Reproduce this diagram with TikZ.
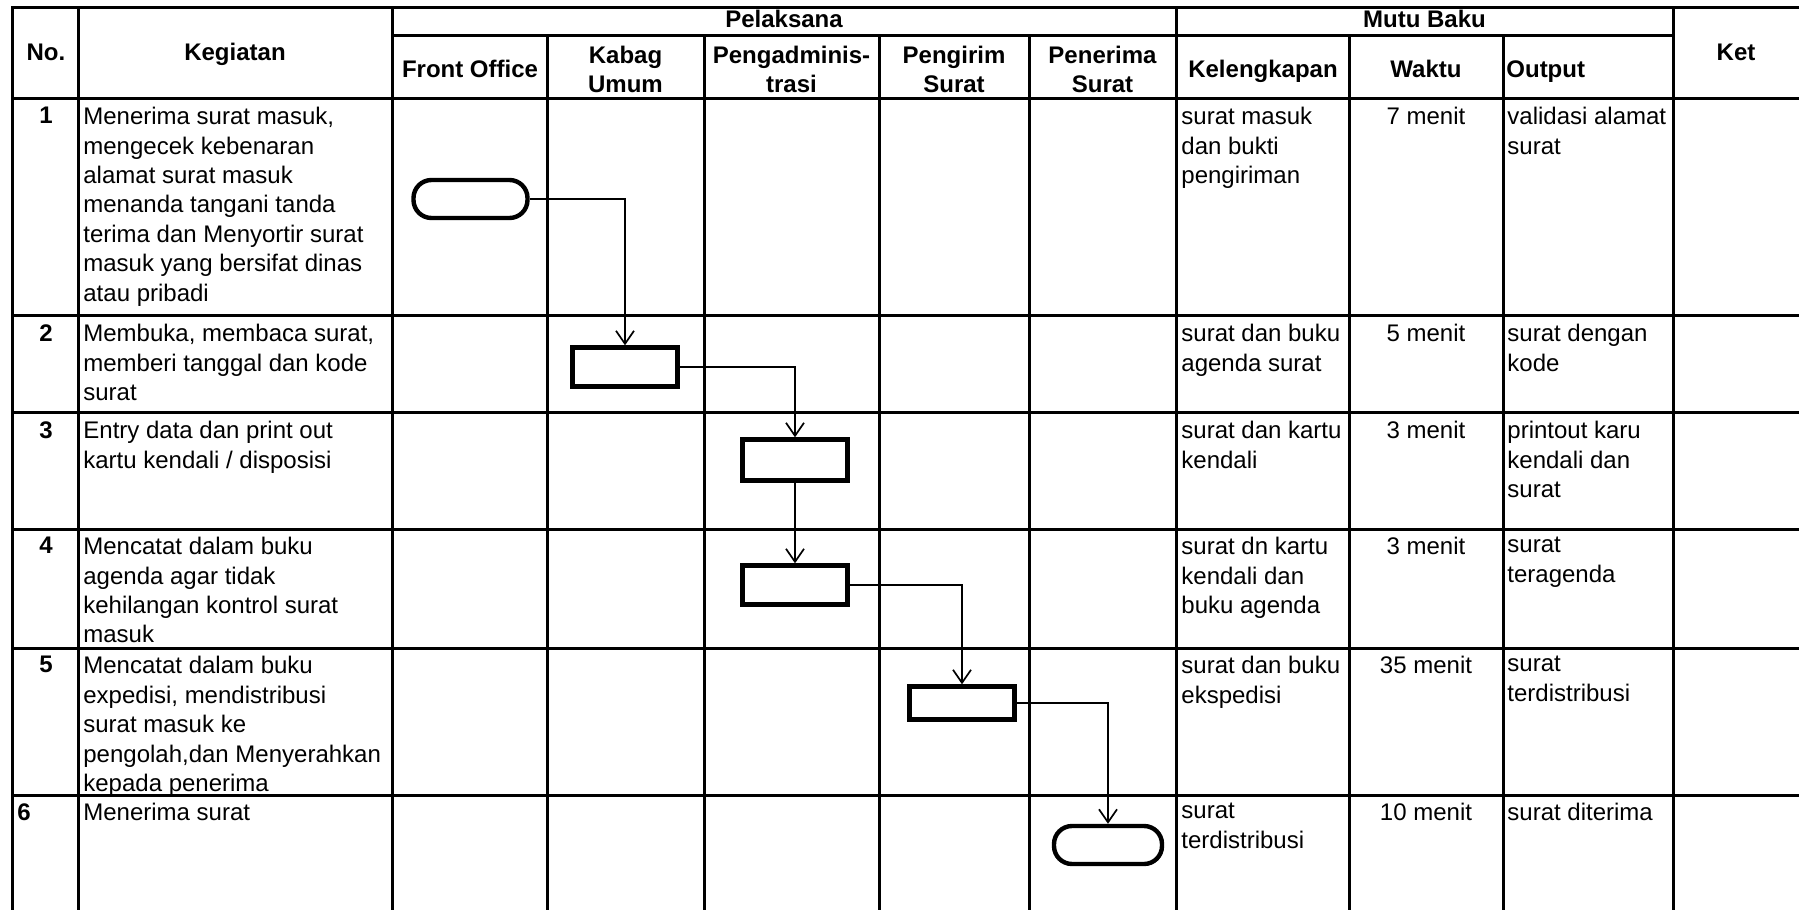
\documentclass[tikz,border=0pt]{standalone}
\usepackage{fontspec}
\setmainfont{Liberation Sans}
\usepackage{tikz}
\usetikzlibrary{arrows.meta}

\begin{document}
\begin{tikzpicture}[
    x=0.5pt, y=-0.5pt,
    every node/.style={inner sep=0pt},
    rule/.style={line width=1.5pt, line cap=rect},
    head/.style={font=\bfseries\fontsize{12}{14.5}\selectfont, align=center},
    cell/.style={anchor=north west, align=left, font=\fontsize{12}{14.7}\selectfont},
    num/.style={anchor=north, font=\bfseries\fontsize{12}{14.7}\selectfont},
    waktu/.style={anchor=north, font=\fontsize{12}{14.7}\selectfont},
    proc/.style={draw, line width=2.2pt, minimum width=52.5pt, minimum height=19.5pt},
    term/.style={draw, line width=2.2pt, rounded corners=9pt, minimum width=55pt, minimum height=19pt},
    arrow/.style={-{Straight Barb[length=6.5pt,width=9pt]}, line width=0.85pt}
]
\useasboundingbox (0,0) rectangle (1799,910);

% Table frame
\draw[rule] (12,7) -- (1799,7);
\draw[rule] (392,35) -- (1673,35);
\draw[rule] (12,98) -- (1799,98);
\draw[rule] (12,315) -- (1799,315);
\draw[rule] (12,412) -- (1799,412);
\draw[rule] (12,529) -- (1799,529);
\draw[rule] (12,648) -- (1799,648);
\draw[rule] (12,795) -- (1799,795);
\draw[rule] (12,7) -- (12,910);
\draw[rule] (78,7) -- (78,910);
\draw[rule] (392,7) -- (392,910);
\draw[rule] (547,35) -- (547,910);
\draw[rule] (704,35) -- (704,910);
\draw[rule] (879,35) -- (879,910);
\draw[rule] (1029,35) -- (1029,910);
\draw[rule] (1176,7) -- (1176,910);
\draw[rule] (1349,35) -- (1349,910);
\draw[rule] (1503,35) -- (1503,910);
\draw[rule] (1673,7) -- (1673,910);

% Header
\node[head, anchor=base] (hno) at (46,60) {No.};
\node[head, anchor=base] (hkegiatan) at (235,60) {Kegiatan};
\node[head, anchor=base] (hpelaksana) at (784,27) {Pelaksana};
\node[head, anchor=base] (hfront) at (470,77) {Front Office};
\node[head] (hkabag) at (625.5,69) {Kabag\\Umum};
\node[head] (hadmin) at (791.5,69) {Pengadminis-\\trasi};
\node[head] (hpengirim) at (954,69) {Pengirim\\Surat};
\node[head] (hpenerima) at (1102.5,69) {Penerima\\Surat};
\node[head, anchor=base] (hmutu) at (1424.5,27) {Mutu Baku};
\node[head, anchor=base] (hlengkap) at (1263,77) {Kelengkapan};
\node[head, anchor=base] (hwaktu) at (1426,77) {Waktu};
\node[head, anchor=base west] (houtput) at (1506,77) {Output};
\node[head, anchor=base] (hket) at (1736,60) {Ket};

% Row 1
\node[num] (no1) at (46,107) {1};
\node[cell] (keg1) at (83,107) {Menerima surat masuk,\\mengecek kebenaran\\alamat surat masuk\\menanda tangani tanda\\terima dan Menyortir surat\\masuk yang bersifat dinas\\atau pribadi};
\node[cell] (leng1) at (1181,107) {surat masuk\\dan bukti\\pengiriman};
\node[waktu] (wkt1) at (1426,107) {7 menit};
\node[cell] (out1) at (1507,107) {validasi alamat\\surat};

% Row 2
\node[num] (no2) at (46,324) {2};
\node[cell] (keg2) at (83,324) {Membuka, membaca surat,\\memberi tanggal dan kode\\surat};
\node[cell] (leng2) at (1181,324) {surat dan buku\\agenda surat};
\node[waktu] (wkt2) at (1426,324) {5 menit};
\node[cell] (out2) at (1507,324) {surat dengan\\kode};

% Row 3
\node[num] (no3) at (46,421) {3};
\node[cell] (keg3) at (83,421) {Entry data dan print out\\kartu kendali / disposisi};
\node[cell] (leng3) at (1181,421) {surat dan kartu\\kendali};
\node[waktu] (wkt3) at (1426,421) {3 menit};
\node[cell] (out3) at (1507,421) {printout karu\\kendali dan\\surat};

% Row 4
\node[num] (no4) at (46,537) {4};
\node[cell] (keg4) at (83,537) {Mencatat dalam buku\\agenda agar tidak\\kehilangan kontrol surat\\masuk};
\node[cell] (leng4) at (1181,537) {surat dn kartu\\kendali dan\\buku agenda};
\node[waktu] (wkt4) at (1426,537) {3 menit};
\node[cell] (out4) at (1507,537) {surat\\teragenda};

% Row 5
\node[num] (no5) at (46,656) {5};
\node[cell] (keg5) at (83,656) {Mencatat dalam buku\\expedisi, mendistribusi\\surat masuk ke\\pengolah,dan Menyerahkan\\kepada penerima};
\node[cell] (leng5) at (1181,656) {surat dan buku\\ekspedisi};
\node[waktu] (wkt5) at (1426,656) {35 menit};
\node[cell] (out5) at (1507,656) {surat\\terdistribusi};

% Row 6
\node[cell, font=\bfseries\fontsize{12}{14.7}\selectfont] (no6) at (17,803) {6};
\node[cell] (keg6) at (83,803) {Menerima surat};
\node[cell] (leng6) at (1181,803) {surat\\terdistribusi};
\node[waktu] (wkt6) at (1426,803) {10 menit};
\node[cell] (out6) at (1507,803) {surat diterima};

% Flow symbols
\node[term, minimum width=57pt] (terima) at (470.5,199) {};
\node[proc] (buka) at (625,367) {};
\node[proc, minimum height=20.5pt] (entri) at (795,460) {};
\node[proc] (agenda) at (795,585) {};
\node[proc, minimum height=16.5pt] (ekspedisi) at (962,703) {};
\node[term, minimum width=54pt] (diterima) at (1108,845) {};

% Connectors
\draw[arrow] (terima.east) -| (buka.north);
\draw[arrow] (buka.east) -| (entri.north);
\draw[arrow] (entri.south) -- (agenda.north);
\draw[arrow] (agenda.east) -| (ekspedisi.north);
\draw[arrow] (ekspedisi.east) -| (diterima.north);

\end{tikzpicture}
\end{document}
